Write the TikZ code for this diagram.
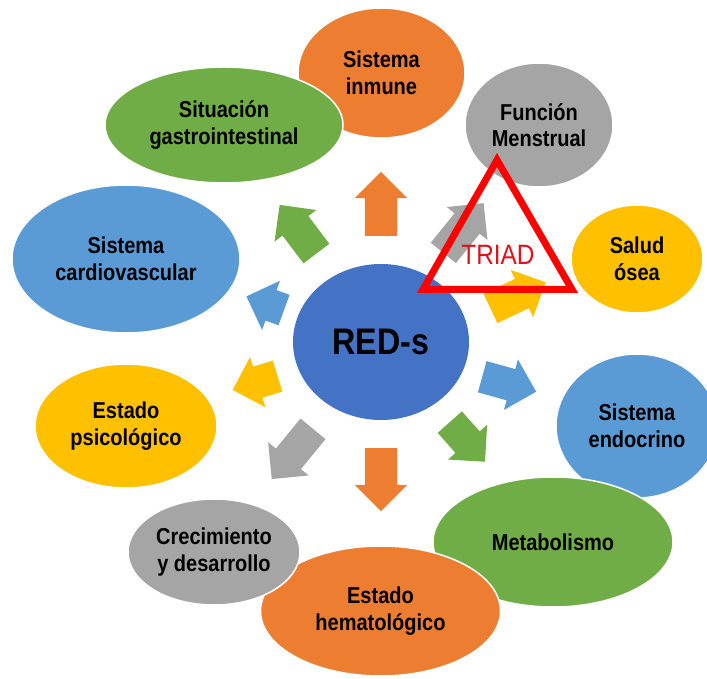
\documentclass[tikz,border=0pt]{standalone}
\usepackage{fontspec}
\setmainfont{Liberation Sans}[FakeStretch=0.87]
\usetikzlibrary{shapes.geometric, shapes.arrows}
\definecolor{accorange}{HTML}{ED7D31}
\definecolor{accgray}{HTML}{A5A5A5}
\definecolor{accgold}{HTML}{FFC000}
\definecolor{accblue}{HTML}{5B9BD5}
\definecolor{accgreen}{HTML}{70AD47}
\definecolor{coreblue}{HTML}{4472C4}
\definecolor{triadred}{RGB}{226,16,26}
\tikzstyle{topic} = [
    ellipse,
    draw=white,
    line width=1.5pt,
    inner sep=0pt,
    align=center,
    text=black,
    font=\bfseries\fontsize{23}{26.5}\selectfont
]
\tikzstyle{blockarr} = [
    single arrow,
    single arrow head extend=10pt,
    inner xsep=0pt,
    inner ysep=16pt,
    draw=none
]
\tikzstyle{triad} = [
    draw=red,
    line width=7pt,
    line join=miter
]

\begin{document}
\begin{tikzpicture}[x=1pt, y=1pt]
        \useasboundingbox (0,0) rectangle (707,678);

        \node[ellipse, fill=coreblue, minimum width=176pt, minimum height=156pt, font=\bfseries\fontsize{37}{40}\selectfont] (reds) at (381,336) {RED-s};

        \node[blockarr, fill=accorange, minimum height=64pt, rotate=90] (toinmune) at ([shift={(90:130pt)}]reds.center) {};
        \node[blockarr, fill=accgray, minimum height=64pt, rotate=51] (tomenstrual) at ([shift={(54.3:132.6pt)}]reds.center) {};
        \node[blockarr, fill=accgold, minimum height=61pt, rotate=25.5] (toosea) at ([shift={(18.4:136.7pt)}]reds.center) {};
        \node[blockarr, fill=accblue, minimum height=56pt, rotate=-15.5] (toendocrino) at ([shift={(-18.4:126.9pt)}]reds.center) {};
        \node[blockarr, fill=accgreen, minimum height=53pt, rotate=-48.4] (tometab) at ([shift={(-49.2:124pt)}]reds.center) {};
        \node[blockarr, fill=accorange, minimum height=63pt, rotate=-90] (tohemato) at ([shift={(-90:129.5pt)}]reds.center) {};
        \node[blockarr, fill=accgray, minimum height=65pt, rotate=230.6] (tocrec) at ([shift={(231.7:134.7pt)}]reds.center) {};
        \node[blockarr, fill=accgold, minimum height=47pt, rotate=197] (topsico) at ([shift={(198.1:124.3pt)}]reds.center) {};
        \node[blockarr, fill=accblue, minimum height=40pt, rotate=160] (tocardio) at ([shift={(161.6:114pt)}]reds.center) {};
        \node[blockarr, fill=accgreen, minimum height=61pt, rotate=127] (togastro) at ([shift={(126.3:131.9pt)}]reds.center) {};

        \node[topic, fill=accorange, minimum width=167pt, minimum height=130pt] (inmune) at (381.5,605) {Sistema\\inmune};
        \node[topic, fill=accgray, minimum width=148pt, minimum height=124pt] (menstrual) at (539,553) {Función\\Menstrual};
        \node[topic, fill=accgold, minimum width=132pt, minimum height=108pt] (osea) at (637,419) {Salud\\ósea};
        \node[topic, fill=accblue, minimum width=162pt, minimum height=144pt] (endocrino) at (637,252) {Sistema\\endocrino};
        \node[topic, fill=accgreen, minimum width=240pt, minimum height=130pt] (metab) at (553,136) {Metabolismo};
        \node[topic, fill=accorange, minimum width=240pt, minimum height=130pt] (hemato) at (380.5,67) {Estado\\hematológico};
        \node[topic, fill=accgray, minimum width=172pt, minimum height=106pt] (crec) at (214,126) {Crecimiento\\y desarrollo};
        \node[topic, fill=accgold, minimum width=182pt, minimum height=124pt] (psico) at (126,252) {Estado\\psicológico};
        \node[topic, fill=accblue, minimum width=228pt, minimum height=148pt] (cardio) at (126,419) {Sistema\\cardiovascular};
        \node[topic, fill=accgreen, minimum width=238pt, minimum height=116pt] (gastro) at (224,553) {Situación\\gastrointestinal};

        \draw[triad] (497,518) -- (423,388.5) -- (572,388.5) -- cycle;
        \node[text=triadred, font=\fontsize{28}{30}\selectfont] (triadlabel) at (498,423) {TRIAD};
    \end{tikzpicture}
\end{document}
